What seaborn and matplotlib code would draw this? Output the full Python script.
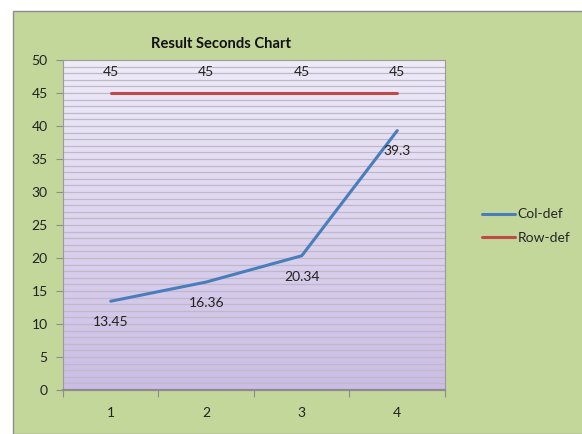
import numpy as np
import pandas as pd
import matplotlib
matplotlib.use("Agg")
import matplotlib.pyplot as plt
from matplotlib.patches import Rectangle
from matplotlib.colors import LinearSegmentedColormap
from matplotlib.lines import Line2D
import seaborn as sns

# Chart data
runs = [1, 2, 3, 4]
col_def = [13.45, 16.36, 20.34, 39.3]
row_def = [45, 45, 45, 45]
y_ticks = [0, 5, 10, 15, 20, 25, 30, 35, 40, 45, 50]
title = "Result Seconds Chart"

df = pd.DataFrame({
    "run": runs * 2,
    "seconds": col_def + row_def,
    "series": ["Col-def"] * len(runs) + ["Row-def"] * len(runs),
})

sns.set_theme(style="white")
plt.rcParams["font.family"] = ["Lato", "DejaVu Sans"]

fig = plt.figure(figsize=(5.82, 4.34), dpi=100)
fig.patch.set_facecolor("white")

# green chart area with thin grey frame
fig.patches.append(Rectangle((13 / 582, 0), 1.0, 1 - 11 / 434, transform=fig.transFigure,
                             facecolor="#c4d79b", edgecolor="#8c8c8c", linewidth=1.0, zorder=-10))

ax = fig.add_axes([63 / 582, 1 - 390 / 434, (445 - 63) / 582, (390 - 60) / 434])
ax.set_facecolor("none")

# lavender vertical gradient behind the plot
cmap = LinearSegmentedColormap.from_list("lav", ["#cbbde6", "#efebf9"])
grad = np.linspace(0, 1, 256).reshape(-1, 1)
ax.imshow(grad, cmap=cmap, aspect="auto", extent=[0, 1, 0, 1], origin="lower",
          transform=ax.transAxes, zorder=0)

palette = {"Col-def": "#4a7ebb", "Row-def": "#be4b48"}
sns.lineplot(data=df, x="run", y="seconds", hue="series", palette=palette,
             linewidth=2.2, ax=ax, legend=False, zorder=3)

ax.set_xlim(0.5, 4.5)
ax.set_ylim(0, 50)

# gridlines every unit
for v in np.arange(1, 50, 1):
    ax.axhline(v, color="#bfb9c6", linewidth=0.9, zorder=1)

fs = 10
ax.set_yticks(y_ticks)
ax.set_yticklabels([str(t) for t in y_ticks], fontsize=fs, color="#222222")
ax.set_xticks(runs)
ax.set_xticklabels([str(r) for r in runs], fontsize=fs, color="#222222")
ax.set_xticks([0.5, 1.5, 2.5, 3.5, 4.5], minor=True)
ax.tick_params(axis="x", which="major", length=0, pad=12)
ax.tick_params(axis="x", which="minor", length=5, width=0.8, color="#8c8c8c", direction="out", bottom=True)
ax.tick_params(axis="y", length=5, width=0.8, color="#8c8c8c", direction="out", pad=6, left=True)
ax.set_xlabel("")
ax.set_ylabel("")

for side in ["left", "top", "right"]:
    ax.spines[side].set_color("#9a9a9a")
    ax.spines[side].set_linewidth(0.8)
ax.spines["bottom"].set_color("#8c8c8c")
ax.spines["bottom"].set_linewidth(1.6)

# value labels
for x, v in zip(runs, col_def):
    ax.annotate(f"{v:g}", (x, v), xytext=(0, -15), textcoords="offset points",
                ha="center", va="center", fontsize=fs, color="#222222", zorder=4)
for x, v in zip(runs, row_def):
    ax.annotate(f"{v:g}", (x, v), xytext=(0, 15), textcoords="offset points",
                ha="center", va="center", fontsize=fs, color="#222222", zorder=4)

fig.text(221 / 582, 1 - 44 / 434, title, ha="center", va="center",
         fontsize=10.6, fontweight="bold", color="#111111")

handles = [Line2D([0], [0], color=palette[s], linewidth=2.2) for s in ["Col-def", "Row-def"]]
fig.legend(handles, ["Col-def", "Row-def"], loc="center left",
           bbox_to_anchor=(469 / 582, 1 - 226 / 434), frameon=False, fontsize=fs,
           handlelength=2.4, handletextpad=0.2, labelspacing=0.8)

fig.savefig("out.png", dpi=100, facecolor=fig.get_facecolor())
